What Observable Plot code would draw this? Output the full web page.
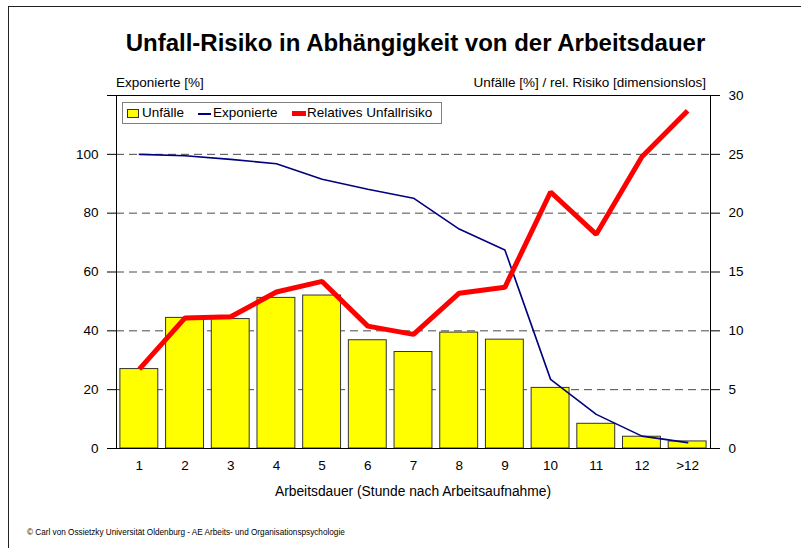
<!DOCTYPE html>
<html>
<head>
<meta charset="utf-8">
<script src="https://cdn.jsdelivr.net/npm/d3@7"></script>
<script src="https://cdn.jsdelivr.net/npm/@observablehq/plot@0.6"></script>
<style>
  html, body { margin: 0; padding: 0; background: #fff; }
  #wrap { position: relative; width: 801px; height: 548px; overflow: hidden; font-family: "Liberation Sans", Arial, sans-serif; color: #000; }
  #wrap svg { position: absolute; left: 0; top: 0; }
  .t { position: absolute; white-space: nowrap; }
  #frame { position: absolute; left: 8px; top: 6px; width: 900px; height: 700px; border-left: 1.5px solid #222; border-top: 1.5px solid #222; }
  #legend { position: absolute; left: 122px; top: 102px; width: 318px; height: 20px; border: 1px solid #808080; background: #fff; font-size: 13.5px; }
  #legend .sw { position: absolute; }
</style>
</head>
<body>
<div id="wrap">
  <div id="frame"></div>
</div>
<script>
const categories = ["1","2","3","4","5","6","7","8","9","10","11","12",">12"];
const unfaelle   = [6.75, 11.1, 11.0, 12.8, 13.0, 9.2, 8.2, 9.85, 9.25, 5.15, 2.1, 1.0, 0.6];
const exponierte = [100, 99.5, 98.3, 96.8, 91.5, 88.1, 85.1, 74.6, 67.5, 23.5, 11.6, 4.2, 2.0];
const risiko     = [6.75, 11.1, 11.2, 13.3, 14.2, 10.4, 9.7, 13.2, 13.7, 21.8, 18.2, 24.8, 28.7];
const leftTicks  = [0, 20, 40, 60, 80, 100, 120];
const rightTicks = [0, 5, 10, 15, 20, 25, 30];
const gridTicks  = [20, 40, 60, 80, 100];
const ratio = 4; // left units per right unit (120 / 30)

const data = categories.map((c, i) => ({i, cat: c, unf: unfaelle[i], exp: exponierte[i], risk: risiko[i]}));

const chart = Plot.plot({
  width: 801,
  height: 548,
  marginTop: 95,
  marginBottom: 100,
  marginLeft: 116,
  marginRight: 91,
  style: {fontFamily: "'Liberation Sans', Arial, sans-serif", fontSize: "13.5px", background: "transparent"},
  x: {type: "linear", domain: [-0.5, categories.length - 0.5], label: null},
  y: {domain: [0, 120], label: null},
  marks: [
    Plot.ruleY(gridTicks, {stroke: "#4a4a4a", strokeDasharray: "8,5", strokeWidth: 1}),
    Plot.rectY(data, {x1: d => d.i - 0.5, x2: d => d.i + 0.5, y1: 0, y2: d => d.unf * ratio, fill: "#ffff00", stroke: "#333", strokeWidth: 1, insetLeft: 3.9, insetRight: 3.9}),
    Plot.line(data, {x: "i", y: "exp", stroke: "#000080", strokeWidth: 1.6}),
    Plot.line(data, {x: "i", y: d => d.risk * ratio, stroke: "#ff0000", strokeWidth: 5, strokeLinejoin: "miter", strokeLinecap: "butt"}),
    Plot.frame({stroke: "#000", strokeWidth: 1}),
    Plot.axisY({anchor: "left", ticks: leftTicks, tickFormat: d => d === 120 ? "" : String(d), tickSize: 9, tickPadding: 9, label: null}),
    Plot.axisY({anchor: "right", ticks: rightTicks.map(v => v * ratio), tickFormat: d => String(d / ratio), tickSize: 9, tickPadding: 9, label: null}),
    Plot.axisX({anchor: "bottom", ticks: d3.range(categories.length), tickFormat: i => categories[i], tickSize: 0, tickPadding: 12, label: null})
  ]
});

const wrap = document.getElementById("wrap");
wrap.appendChild(chart);

function addText(txt, css) {
  const d = document.createElement("div");
  d.className = "t";
  d.textContent = txt;
  Object.assign(d.style, css);
  wrap.appendChild(d);
  return d;
}

addText("Unfall-Risiko in Abhängigkeit von der Arbeitsdauer", {left: "0px", width: "831px", textAlign: "center", top: "29px", fontSize: "24px", fontWeight: "bold", lineHeight: "28px"});
addText("Exponierte [%]", {left: "116px", top: "75px", fontSize: "13.5px", lineHeight: "16px"});
addText("Unfälle [%] / rel. Risiko [dimensionslos]", {right: "95px", top: "75px", fontSize: "13.5px", lineHeight: "16px"});
addText("Arbeitsdauer (Stunde nach Arbeitsaufnahme)", {left: "116px", width: "594px", textAlign: "center", top: "484px", fontSize: "13.8px", lineHeight: "16px"});
addText("© Carl von Ossietzky Universität Oldenburg - AE Arbeits- und Organisationspsychologie", {left: "27px", top: "528px", fontSize: "8.2px", lineHeight: "10px"});

// legend
const lg = document.createElement("div");
lg.id = "legend";
lg.innerHTML =
  '<div class="sw" style="left:4px;top:6px;width:12px;height:9px;background:#ffff00;border:1px solid #333;box-sizing:border-box"></div>' +
  '<div class="t" style="left:19px;top:2px;line-height:16px">Unfälle</div>' +
  '<div class="sw" style="left:75px;top:10px;width:13px;height:2px;background:#000080"></div>' +
  '<div class="t" style="left:90px;top:2px;line-height:16px">Exponierte</div>' +
  '<div class="sw" style="left:169px;top:8px;width:14px;height:5px;background:#ff0000"></div>' +
  '<div class="t" style="left:184px;top:2px;line-height:16px">Relatives Unfallrisiko</div>';
wrap.appendChild(lg);
</script>
</body>
</html>
